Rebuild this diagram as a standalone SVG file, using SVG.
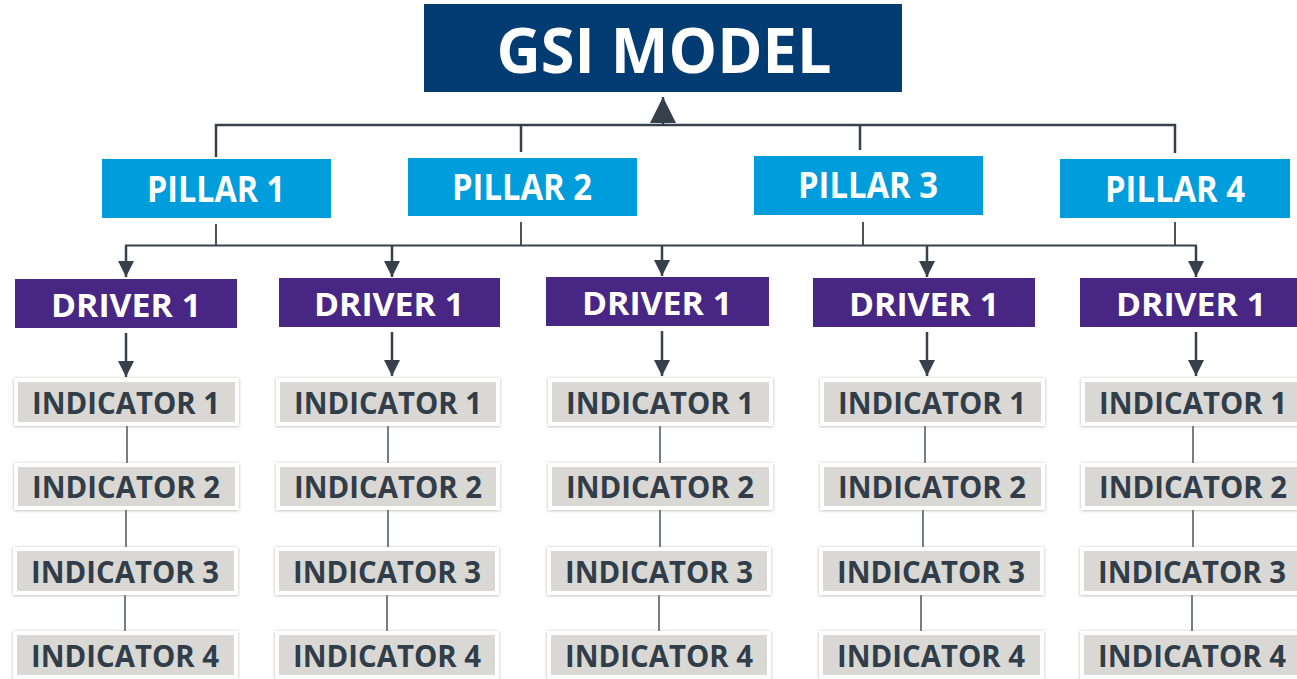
<svg xmlns="http://www.w3.org/2000/svg" width="1297" height="679" viewBox="0 0 1297 679">
<style>
.t{font-family:"Open Sans","Liberation Sans",sans-serif;font-weight:bold;text-anchor:middle}
.gsi{fill:#023C72}
.pil{fill:#009DDC}
.drv{fill:#482683}
.ind{fill:#DAD8D4;stroke:#FFFFFF;stroke-width:4;filter:url(#sh)}
.tw{fill:#FFFFFF}
.ti{fill:#313D48;font-size:30px}
.tp{font-size:35px}
.td{font-size:33px}
.c{stroke:#37414B;stroke-width:2.5;fill:none}
.cd{stroke:#37414B;stroke-width:2.5;fill:none;marker-end:url(#arr)}
.ci{stroke:#4A525A;stroke-width:1.5;fill:none}
</style>
<defs>
<marker id="arr" viewBox="0 0 16 16" refX="16" refY="8" markerWidth="16" markerHeight="16" markerUnits="userSpaceOnUse" orient="auto">
<path d="M0,0 L16,8 L0,16 z" fill="#37414B"/>
</marker>
<marker id="arrBig" viewBox="0 0 26 26" refX="26" refY="13" markerWidth="26" markerHeight="26" markerUnits="userSpaceOnUse" orient="auto">
<path d="M0,0 L26,13 L0,26 z" fill="#37414B"/>
</marker>
<filter id="sh" x="-5%" y="-20%" width="110%" height="140%">
<feDropShadow dx="0" dy="0.5" stdDeviation="1.5" flood-color="#7A7A7A" flood-opacity="0.6"/>
</filter>
</defs>
<rect width="1297" height="679" fill="#FFFFFF"/>

<g id="connectors">
<line class="c" x1="663" y1="125" x2="663" y2="97" style="marker-end:url(#arrBig)"/>
<path class="c" d="M216,157 V125 H1175 V153"/>
<line class="c" x1="521" y1="125" x2="521" y2="152"/>
<line class="c" x1="860" y1="125" x2="860" y2="150"/>
<line class="c" x1="216" y1="224" x2="216" y2="246" style="stroke-width:1.8"/>
<line class="c" x1="521" y1="222" x2="521" y2="246" style="stroke-width:1.8"/>
<line class="c" x1="863" y1="222" x2="863" y2="246" style="stroke-width:1.8"/>
<line class="c" x1="1175" y1="222" x2="1175" y2="245" style="stroke-width:1.8"/>
<line class="c" x1="125" y1="245.5" x2="1197" y2="245.5" style="stroke-width:2"/>
<line class="cd" x1="126" y1="246" x2="126" y2="277"/>
<line class="cd" x1="392" y1="246" x2="392" y2="277"/>
<line class="cd" x1="662" y1="246" x2="662" y2="276"/>
<line class="cd" x1="927" y1="246" x2="927" y2="277"/>
<line class="cd" x1="1196" y1="246" x2="1196" y2="277"/>
<line class="cd" x1="126" y1="333" x2="126" y2="377"/>
<line class="cd" x1="392" y1="332" x2="392" y2="376"/>
<line class="cd" x1="662" y1="331" x2="662" y2="376"/>
<line class="cd" x1="927" y1="332" x2="927" y2="376"/>
<line class="cd" x1="1196" y1="332" x2="1196" y2="376"/>
<line class="ci" x1="127" y1="426" x2="127" y2="463"/>
<line class="ci" x1="126" y1="510" x2="126" y2="547"/>
<line class="ci" x1="125" y1="595" x2="125" y2="631"/>
<line class="ci" x1="388" y1="426" x2="388" y2="463"/>
<line class="ci" x1="388" y1="510" x2="388" y2="547"/>
<line class="ci" x1="387" y1="595" x2="387" y2="631"/>
<line class="ci" x1="660" y1="426" x2="660" y2="463"/>
<line class="ci" x1="660" y1="510" x2="660" y2="547"/>
<line class="ci" x1="659" y1="595" x2="659" y2="631"/>
<line class="ci" x1="925" y1="426" x2="925" y2="463"/>
<line class="ci" x1="923" y1="510" x2="923" y2="547"/>
<line class="ci" x1="921" y1="595" x2="921" y2="631"/>
<line class="ci" x1="1193" y1="426" x2="1193" y2="463"/>
<line class="ci" x1="1193" y1="510" x2="1193" y2="547"/>
<line class="ci" x1="1192" y1="595" x2="1192" y2="631"/>
</g>

<g id="gsi-model">
<rect class="gsi" x="424" y="4" width="478" height="88"/>
<text class="t tw" x="664" y="73" font-size="63" textLength="335" lengthAdjust="spacingAndGlyphs">GSI MODEL</text>
</g>

<g id="pillar-1"><rect class="pil" x="102" y="159" width="229" height="59"/><text class="t tw tp" x="216" y="202" textLength="138" lengthAdjust="spacingAndGlyphs">PILLAR 1</text></g>
<g id="pillar-2"><rect class="pil" x="408" y="158" width="229" height="58"/><text class="t tw tp" x="522" y="200" textLength="140" lengthAdjust="spacingAndGlyphs">PILLAR 2</text></g>
<g id="pillar-3"><rect class="pil" x="754" y="156" width="229" height="59"/><text class="t tw tp" x="868" y="198" textLength="140" lengthAdjust="spacingAndGlyphs">PILLAR 3</text></g>
<g id="pillar-4"><rect class="pil" x="1060" y="159" width="230" height="59"/><text class="t tw tp" x="1175" y="202" textLength="140" lengthAdjust="spacingAndGlyphs">PILLAR 4</text></g>

<g id="driver-col1"><rect class="drv" x="15" y="279" width="222" height="49"/><text class="t tw td" x="126" y="317" textLength="150" lengthAdjust="spacingAndGlyphs">DRIVER 1</text></g>
<g id="driver-col2"><rect class="drv" x="279" y="278" width="221" height="49"/><text class="t tw td" x="389" y="316" textLength="150" lengthAdjust="spacingAndGlyphs">DRIVER 1</text></g>
<g id="driver-col3"><rect class="drv" x="546" y="277" width="223" height="49"/><text class="t tw td" x="657" y="315" textLength="150" lengthAdjust="spacingAndGlyphs">DRIVER 1</text></g>
<g id="driver-col4"><rect class="drv" x="813" y="278" width="222" height="49"/><text class="t tw td" x="924" y="316" textLength="150" lengthAdjust="spacingAndGlyphs">DRIVER 1</text></g>
<g id="driver-col5"><rect class="drv" x="1080" y="278" width="230" height="49"/><text class="t tw td" x="1191" y="316" textLength="150" lengthAdjust="spacingAndGlyphs">DRIVER 1</text></g>

<g id="ind-c1-1"><rect class="ind" x="16" y="380" width="221" height="44"/><text class="t ti" x="126" y="414" textLength="188" lengthAdjust="spacingAndGlyphs">INDICATOR 1</text></g>
<g id="ind-c1-2"><rect class="ind" x="16" y="465" width="221" height="43"/><text class="t ti" x="126" y="498" textLength="188" lengthAdjust="spacingAndGlyphs">INDICATOR 2</text></g>
<g id="ind-c1-3"><rect class="ind" x="15" y="549" width="221" height="44"/><text class="t ti" x="125" y="583" textLength="188" lengthAdjust="spacingAndGlyphs">INDICATOR 3</text></g>
<g id="ind-c1-4"><rect class="ind" x="15" y="633" width="221" height="44"/><text class="t ti" x="125" y="667" textLength="188" lengthAdjust="spacingAndGlyphs">INDICATOR 4</text></g>

<g id="ind-c2-1"><rect class="ind" x="278" y="380" width="220" height="44"/><text class="t ti" x="388" y="414" textLength="188" lengthAdjust="spacingAndGlyphs">INDICATOR 1</text></g>
<g id="ind-c2-2"><rect class="ind" x="278" y="465" width="220" height="43"/><text class="t ti" x="388" y="498" textLength="188" lengthAdjust="spacingAndGlyphs">INDICATOR 2</text></g>
<g id="ind-c2-3"><rect class="ind" x="277" y="549" width="220" height="44"/><text class="t ti" x="387" y="583" textLength="188" lengthAdjust="spacingAndGlyphs">INDICATOR 3</text></g>
<g id="ind-c2-4"><rect class="ind" x="277" y="633" width="220" height="44"/><text class="t ti" x="387" y="667" textLength="188" lengthAdjust="spacingAndGlyphs">INDICATOR 4</text></g>

<g id="ind-c3-1"><rect class="ind" x="550" y="380" width="221" height="44"/><text class="t ti" x="660" y="414" textLength="188" lengthAdjust="spacingAndGlyphs">INDICATOR 1</text></g>
<g id="ind-c3-2"><rect class="ind" x="550" y="465" width="221" height="43"/><text class="t ti" x="660" y="498" textLength="188" lengthAdjust="spacingAndGlyphs">INDICATOR 2</text></g>
<g id="ind-c3-3"><rect class="ind" x="549" y="549" width="220" height="44"/><text class="t ti" x="659" y="583" textLength="188" lengthAdjust="spacingAndGlyphs">INDICATOR 3</text></g>
<g id="ind-c3-4"><rect class="ind" x="549" y="633" width="220" height="44"/><text class="t ti" x="659" y="667" textLength="188" lengthAdjust="spacingAndGlyphs">INDICATOR 4</text></g>

<g id="ind-c4-1"><rect class="ind" x="822" y="380" width="221" height="44"/><text class="t ti" x="932" y="414" textLength="188" lengthAdjust="spacingAndGlyphs">INDICATOR 1</text></g>
<g id="ind-c4-2"><rect class="ind" x="822" y="465" width="221" height="43"/><text class="t ti" x="932" y="498" textLength="188" lengthAdjust="spacingAndGlyphs">INDICATOR 2</text></g>
<g id="ind-c4-3"><rect class="ind" x="821" y="549" width="221" height="44"/><text class="t ti" x="931" y="583" textLength="188" lengthAdjust="spacingAndGlyphs">INDICATOR 3</text></g>
<g id="ind-c4-4"><rect class="ind" x="821" y="633" width="221" height="44"/><text class="t ti" x="931" y="667" textLength="188" lengthAdjust="spacingAndGlyphs">INDICATOR 4</text></g>

<g id="ind-c5-1"><rect class="ind" x="1083" y="380" width="221" height="44"/><text class="t ti" x="1193" y="414" textLength="188" lengthAdjust="spacingAndGlyphs">INDICATOR 1</text></g>
<g id="ind-c5-2"><rect class="ind" x="1083" y="465" width="221" height="43"/><text class="t ti" x="1193" y="498" textLength="188" lengthAdjust="spacingAndGlyphs">INDICATOR 2</text></g>
<g id="ind-c5-3"><rect class="ind" x="1082" y="549" width="221" height="44"/><text class="t ti" x="1192" y="583" textLength="188" lengthAdjust="spacingAndGlyphs">INDICATOR 3</text></g>
<g id="ind-c5-4"><rect class="ind" x="1082" y="633" width="221" height="44"/><text class="t ti" x="1192" y="667" textLength="188" lengthAdjust="spacingAndGlyphs">INDICATOR 4</text></g>
</svg>
